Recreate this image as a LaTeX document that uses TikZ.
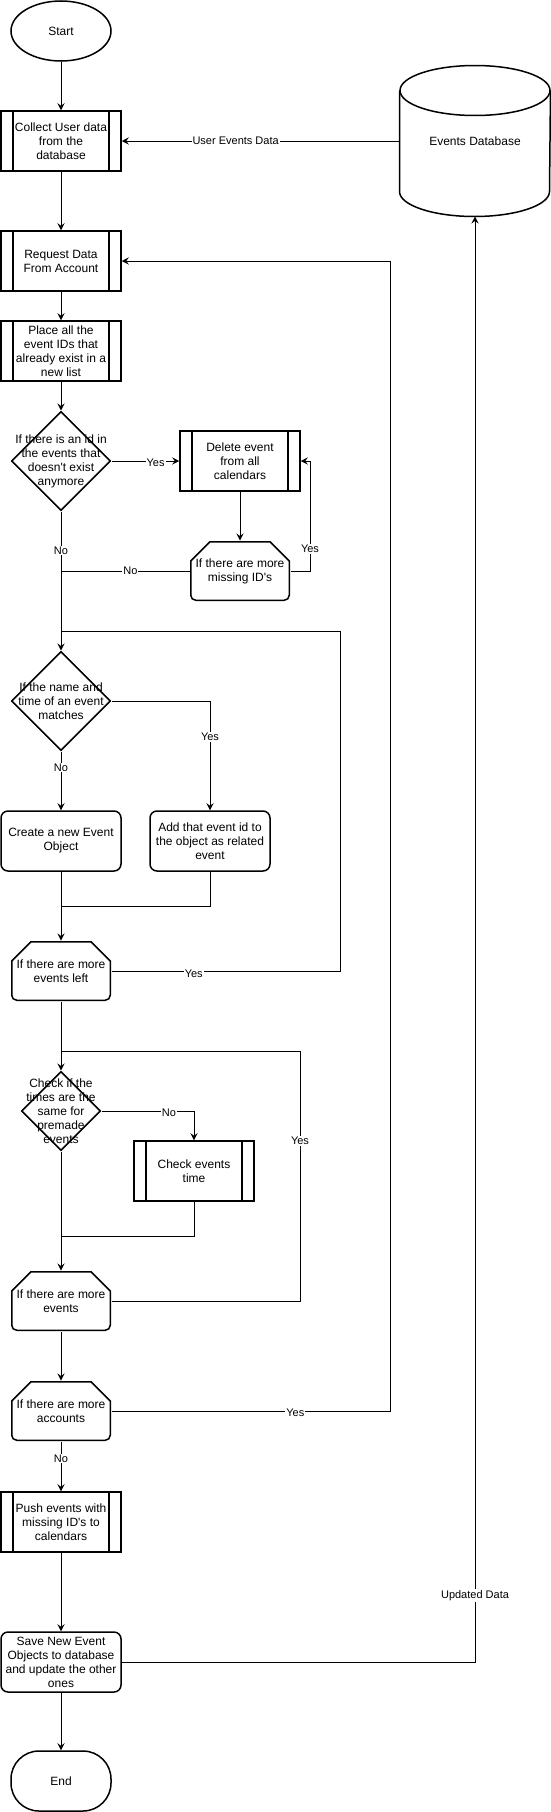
\documentclass[tikz,border=0pt]{standalone}
\usepackage{fontspec}
\setmainfont{Liberation Sans}
\usetikzlibrary{shapes.geometric, arrows.meta}

\begin{document}
\begin{tikzpicture}[x=1pt, y=1pt, line width=1pt, >={Stealth[length=7pt, width=7pt, inset=2.5pt]}]
	\tikzstyle{txt} = [font=\fontsize{12}{14}\selectfont, align=center, inner sep=0pt]
	\tikzstyle{lbl} = [font=\fontsize{11}{13}\selectfont, fill=white, inner sep=1pt]
	\tikzstyle{term} = [txt, draw, line width=1.5pt, minimum width=100pt, minimum height=60pt]
	\tikzstyle{rbox} = [txt, draw, line width=1.5pt, rounded corners=7pt, minimum width=120pt, minimum height=60pt]
	\tikzstyle{proc} = [txt, draw, line width=1.5pt, minimum width=120pt, minimum height=60pt,
		path picture={\draw[line width=1.5pt]
			([xshift=12pt]path picture bounding box.north west) -- ([xshift=12pt]path picture bounding box.south west)
			([xshift=-12pt]path picture bounding box.north east) -- ([xshift=-12pt]path picture bounding box.south east);}]
	\tikzstyle{dec} = [txt, minimum width=100pt, minimum height=100pt,
		path picture={\draw[line width=1.5pt]
			([yshift=-0.75pt]path picture bounding box.north) -- ([xshift=-0.75pt]path picture bounding box.east)
			-- ([yshift=0.75pt]path picture bounding box.south) -- ([xshift=0.75pt]path picture bounding box.west) -- cycle;}]
	\tikzstyle{loop} = [txt, minimum width=100pt, minimum height=60pt,
		path picture={\draw[line width=1.5pt]
			([shift={(20pt,-0.75pt)}]path picture bounding box.north west) -- ([shift={(-20pt,-0.75pt)}]path picture bounding box.north east)
			-- ([shift={(-0.75pt,-20pt)}]path picture bounding box.north east) [rounded corners=5pt]
			-- ([shift={(-0.75pt,0.75pt)}]path picture bounding box.south east)
			-- ([shift={(0.75pt,0.75pt)}]path picture bounding box.south west) [sharp corners]
			-- ([shift={(0.75pt,-20pt)}]path picture bounding box.north west) -- cycle;}]

	\useasboundingbox (0,0) rectangle (551,-1812);

	\draw (61,-31) node[term, ellipse] (start) {Start};
	\draw (61,-141) node[proc] (collect) {Collect User data\\from the\\database};
	\draw (475,-141) node[txt, minimum width=150pt, minimum height=150pt] (db) {Events Database};
	\draw (61,-261) node[proc] (request) {Request Data\\From Account};
	\draw (61,-351) node[proc] (place) {Place all the\\event IDs that\\already exist in a\\new list};

	\draw (61,-461) node[dec] (dec1) {If there is an id in\\the events that\\doesn\textquotesingle t exist\\anymore};
	\draw (240,-461) node[proc] (delete) {Delete event\\from all\\calendars};
	\draw (240,-571) node[loop] (more1) {If there are more\\missing ID\textquotesingle s};

	\draw (61,-701) node[dec] (dec2) {If the name and\\time of an event\\matches};
	\draw (61,-841) node[rbox] (create) {Create a new Event\\Object};
	\draw (210,-841) node[rbox] (addid) {Add that event id to\\the object as related\\event};
	\draw (61,-971) node[loop] (more2) {If there are more\\events left};

	\draw (61,-1111) node[dec, minimum width=80pt, minimum height=80pt] (dec3) {Check if the\\times are the\\same for\\premade\\events};
	\draw (194,-1171) node[proc] (check) {Check events\\time};
	\draw (61,-1301) node[loop] (more3) {If there are more\\events};
	\draw (61,-1411) node[loop] (more4) {If there are more\\accounts};

	\draw (61,-1522) node[proc] (push) {Push events with\\missing ID\textquotesingle s to\\calendars};
	\draw (61,-1662) node[rbox] (save) {Save New Event\\Objects to database\\and update the other\\ones};
	\draw (61,-1781) node[term, rounded corners=28pt] (stop) {End};

	% database cylinder
	\draw[line width=1.5pt] ([yshift=-25pt]db.north) ellipse [x radius=75pt, y radius=25pt];
	\draw[line width=1.5pt] ([yshift=-25pt]db.north west) -- ([yshift=25pt]db.south west)
		arc [start angle=180, end angle=360, x radius=75pt, y radius=25pt] -- ([yshift=-25pt]db.north east);

	\coordinate (r1) at (310,-571);
	\coordinate (j1) at (61,-571);
	\coordinate (l1) at (340,-631);
	\coordinate (j2) at (61,-631);
	\coordinate (j3) at (61,-906);
	\coordinate (l2) at (300,-1051);
	\coordinate (j4) at (61,-1051);
	\coordinate (j5) at (61,-1236);
	\coordinate (l3) at (390,-1411);

	\draw[->] (start) -- (collect);
	\draw[->] (db) -- node[lbl, pos=0.59] {User Events Data} (collect);
	\draw[->] (collect) -- (request);
	\draw[->] (request) -- (place);
	\draw[->] (place) -- (dec1);

	\draw[->] (dec1) -- node[lbl, pos=0.65, yshift=-2pt] {Yes} (delete);
	\draw[->] (delete) -- (more1);
	\draw[->] (more1.east) -- (r1) |- node[lbl, pos=0.1] {Yes} (delete.east);
	\draw (more1) -- node[lbl, pos=0.46] {No} (j1);
	\draw[->] (dec1) -- node[lbl, pos=0.28] {No} (dec2);

	\draw (more2.east) -| node[lbl, pos=0.18, yshift=-3pt] {Yes} (l1) -- (j2);
	\draw[->] (dec2.east) -| node[lbl, pos=0.665] {Yes} (addid.north);
	\draw[->] (dec2) -- node[lbl, pos=0.27] {No} (create);
	\draw (addid.south) |- (j3);
	\draw[->] (create) -- (more2);
	\draw[->] (more2) -- (dec3);

	\draw (more3.east) -| node[lbl, pos=0.82] {Yes} (l2) -- (j4);
	\draw[->] (dec3.east) -| node[lbl, pos=0.365, yshift=-2pt] {No} (check.north);
	\draw (check.south) |- (j5);
	\draw[->] (dec3) -- (more3);
	\draw[->] (more3) -- (more4);

	\draw[->] (more4.east) -- node[lbl, pos=0.66, yshift=-2pt] {Yes} (l3) |- (request.east);
	\draw[->] (more4) -- node[lbl, pos=0.34] {No} (push);
	\draw[->] (push) -- (save);
	\draw[->] (save.east) -| node[lbl, pos=0.523] {Updated Data} (db.south);
	\draw[->] (save) -- (stop);
\end{tikzpicture}
\end{document}
